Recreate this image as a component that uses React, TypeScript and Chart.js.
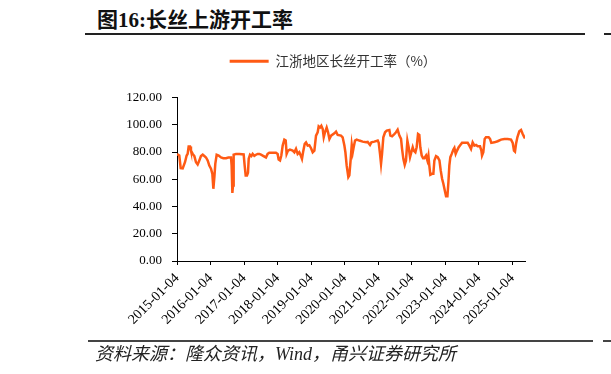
import React, { useEffect, useRef } from 'react';
import { Chart, registerables } from 'chart.js';

Chart.register(...registerables);

const titleText = '图16:长丝上游开工率';
const sourceText = '资料来源：隆众资讯，Wind，甬兴证券研究所';
const seriesName = '江浙地区长丝开工率（%）';

const dates: string[] = [
  '2015-01-04', '2015-01-29', '2015-02-13', '2015-03-07', '2015-04-01', '2015-04-19', '2015-04-30', '2015-05-11',
  '2015-05-26', '2015-06-05', '2015-06-24', '2015-07-12', '2015-07-30', '2015-08-17', '2015-09-04', '2015-09-22',
  '2015-10-11', '2015-10-29', '2015-11-16', '2015-12-04', '2015-12-22', '2016-01-09', '2016-01-24', '2016-02-04',
  '2016-02-15', '2016-02-25', '2016-03-11', '2016-04-02', '2016-04-27', '2016-05-23', '2016-06-21', '2016-07-16',
  '2016-08-14', '2016-08-21', '2016-08-29', '2016-09-05', '2016-09-12', '2016-10-08', '2016-11-13', '2016-12-30',
  '2017-01-10', '2017-01-21', '2017-02-04', '2017-02-15', '2017-02-23', '2017-03-09', '2017-03-24', '2017-04-07',
  '2017-04-25', '2017-05-13', '2017-06-01', '2017-06-19', '2017-07-07', '2017-07-25', '2017-08-30', '2017-09-17',
  '2017-10-05', '2017-11-11', '2017-12-17', '2018-01-04', '2018-01-15', '2018-01-30', '2018-02-13', '2018-02-28',
  '2018-03-18', '2018-04-02', '2018-04-12', '2018-04-27', '2018-05-18', '2018-06-17', '2018-07-05', '2018-07-23',
  '2018-08-10', '2018-08-28', '2018-09-15', '2018-09-26', '2018-10-11', '2018-10-26', '2018-11-09', '2018-11-27',
  '2018-12-15', '2019-01-03', '2019-01-21', '2019-02-08', '2019-02-26', '2019-03-16', '2019-03-27', '2019-04-11',
  '2019-04-25', '2019-05-10', '2019-05-21', '2019-06-04', '2019-06-22', '2019-07-07', '2019-07-22', '2019-08-09',
  '2019-09-14', '2019-10-02', '2019-10-20', '2019-11-25', '2019-12-13', '2020-01-01', '2020-01-12', '2020-01-26',
  '2020-02-13', '2020-02-24', '2020-03-10', '2020-03-21', '2020-04-01', '2020-04-11', '2020-04-26', '2020-05-14',
  '2020-06-12', '2020-07-18', '2020-08-24', '2020-09-11', '2020-10-06', '2020-10-21', '2020-11-22', '2020-12-29',
  '2021-01-09', '2021-01-23', '2021-02-03', '2021-02-14', '2021-02-28', '2021-03-19', '2021-04-06', '2021-05-05',
  '2021-05-16', '2021-06-03', '2021-06-28', '2021-07-16', '2021-08-03', '2021-08-22', '2021-09-09', '2021-09-20',
  '2021-10-04', '2021-10-19', '2021-11-02', '2021-11-17', '2021-12-01', '2021-12-16', '2021-12-30', '2022-01-14',
  '2022-01-25', '2022-02-12', '2022-02-26', '2022-03-13', '2022-03-27', '2022-04-07', '2022-04-22', '2022-05-07',
  '2022-05-21', '2022-06-08', '2022-06-23', '2022-07-04', '2022-07-14', '2022-07-25', '2022-08-12', '2022-08-27',
  '2022-09-07', '2022-09-25', '2022-10-13', '2022-11-01', '2022-11-15', '2022-11-30', '2022-12-14', '2022-12-29',
  '2023-01-12', '2023-01-27', '2023-02-07', '2023-02-17', '2023-02-28', '2023-03-15', '2023-04-02', '2023-04-13',
  '2023-04-27', '2023-05-12', '2023-05-30', '2023-06-17', '2023-07-05', '2023-09-05', '2023-09-23', '2023-10-11',
  '2023-10-29', '2023-11-17', '2023-12-05', '2023-12-23', '2024-01-17', '2024-02-01', '2024-02-08', '2024-02-22',
  '2024-03-08', '2024-03-22', '2024-04-20', '2024-05-05', '2024-05-19', '2024-06-21', '2024-07-27', '2024-09-02',
  '2024-10-08', '2024-11-13', '2024-12-20', '2025-01-07', '2025-01-21', '2025-02-01', '2025-02-12', '2025-02-27',
  '2025-03-20', '2025-04-08', '2025-04-26', '2025-05-14', '2025-05-21',
];

const values: number[] = [
  78.6, 77.4, 68.2, 68.0, 72.5, 77.4, 78.6, 84.0,
  84.0, 81.0, 78.6, 77.0, 72.5, 70.8, 73.8, 77.0,
  78.0, 77.0, 76.0, 73.8, 70.0, 67.7, 64.0, 53.0,
  61.6, 71.3, 78.0, 77.4, 76.0, 75.5, 75.5, 76.0,
  76.0, 70.0, 50.0, 55.5, 78.0, 78.6, 78.6, 78.2,
  70.0, 62.8, 62.8, 64.8, 75.0, 78.0, 77.0, 78.6,
  77.2, 78.0, 78.6, 78.6, 78.0, 77.4, 76.0, 78.6,
  79.4, 79.4, 79.4, 78.6, 74.5, 73.8, 77.4, 84.7,
  89.0, 88.4, 78.6, 81.0, 81.8, 81.0, 79.8, 82.3,
  78.6, 79.8, 77.0, 75.0, 81.0, 86.0, 87.0, 84.7,
  85.0, 82.8, 79.8, 81.0, 92.0, 94.5, 98.8, 98.0,
  99.3, 96.9, 90.8, 94.5, 97.9, 94.5, 89.6, 92.0,
  93.7, 94.9, 92.5, 92.0, 90.8, 84.7, 79.8, 70.0,
  61.6, 62.8, 75.0, 85.2, 79.8, 83.5, 88.4, 89.1,
  88.4, 87.6, 87.1, 87.4, 85.2, 87.1, 87.6, 88.4,
  86.7, 78.6, 71.3, 78.6, 90.8, 94.5, 95.7, 96.2,
  92.0, 91.5, 93.2, 94.5, 96.4, 92.0, 89.6, 82.3,
  75.0, 70.6, 73.8, 88.4, 83.5, 76.2, 79.8, 83.5,
  81.0, 79.8, 83.5, 93.2, 92.5, 83.5, 77.4, 75.5,
  75.5, 77.4, 73.8, 77.4, 70.0, 63.3, 64.0, 64.0,
  73.8, 77.0, 76.2, 73.8, 66.5, 60.4, 56.7, 51.9,
  47.5, 47.5, 58.0, 70.0, 76.2, 78.6, 81.8, 83.0,
  78.6, 81.0, 83.5, 85.2, 86.7, 86.7, 84.7, 82.3,
  87.1, 84.7, 85.2, 84.2, 84.2, 81.0, 77.4, 79.8,
  89.6, 90.8, 90.8, 89.6, 86.7, 87.1, 87.9, 89.1,
  89.6, 89.6, 89.1, 86.7, 81.0, 80.3, 85.9, 90.8,
  95.2, 96.2, 93.2, 90.8, 90.0,
];

const tickLabels: string[] = [
  '2015-01-04', '2016-01-04', '2017-01-04', '2018-01-04', '2019-01-04', '2020-01-04',
  '2021-01-04', '2022-01-04', '2023-01-04', '2024-01-04', '2025-01-04',
];
const xStart = '2015-01-04';
const xEnd = '2025-05-21';
const yMin = 0;
const yMax = 120;
const yStep = 20;

const DAY = 86400000;
const toDays = (s: string) => {
  const [y, m, d] = s.split('-').map(Number);
  return Date.UTC(y, m - 1, d) / DAY;
};

const LINE_COLOR = '#FF5A14';
const SERIF = '"Liberation Serif", "Times New Roman", serif';

const LEGEND_CENTER_X = 333;
const LEGEND_SHIFT_Y = 19.5;

const legendShift = {
  id: 'legendShift',
  afterLayout(chart: any) {
    const l = chart.legend;
    if (!l) return;
    const dx = LEGEND_CENTER_X - (l.left + l.right) / 2;
    l.top -= LEGEND_SHIFT_Y;
    l.bottom -= LEGEND_SHIFT_Y;
    l.left += dx;
    l.right += dx;
  },
};

export default function App() {
  const canvasRef = useRef<HTMLCanvasElement | null>(null);

  useEffect(() => {
    if (!canvasRef.current) return;
    const chart = new Chart(canvasRef.current, {
      type: 'line',
      data: {
        datasets: [
          {
            label: seriesName,
            data: dates.map((d, i) => ({ x: toDays(d), y: values[i] })),
            borderColor: LINE_COLOR,
            backgroundColor: LINE_COLOR,
            borderWidth: 2.5,
            pointRadius: 0,
            tension: 0,
            fill: false,
          },
        ],
      },
      options: {
        animation: false,
        responsive: false,
        maintainAspectRatio: false,
        layout: { padding: { top: 64, left: 0, right: 86, bottom: 0 } },
        plugins: {
          legend: {
            display: true,
            position: 'top',
            labels: {
              boxWidth: 39,
              boxHeight: 3,
              padding: 10,
              color: '#333',
              font: { family: '"Noto Sans CJK SC", sans-serif', size: 13.5 },
              generateLabels: (chart: any) =>
                Chart.defaults.plugins.legend.labels
                  .generateLabels(chart)
                  .map((item: any) => ({ ...item, lineWidth: 0, fillStyle: LINE_COLOR })),
            },
          },
          tooltip: { enabled: false },
        },
        scales: {
          x: {
            type: 'linear',
            min: toDays(xStart),
            max: toDays(xEnd),
            afterFit: (scale: any) => {
              scale.height = 113;
            },
            afterBuildTicks: (scale: any) => {
              scale.ticks = tickLabels.map((t) => ({ value: toDays(t) }));
            },
            grid: { display: true, drawOnChartArea: false, drawTicks: true, tickLength: 4, color: '#000' },
            border: { display: true, color: '#000', width: 1 },
            ticks: {
              autoSkip: false,
              maxRotation: 45,
              minRotation: 45,
              padding: 5,
              color: '#000',
              font: { family: SERIF, size: 14 },
              callback: (_v: any, i: number) => tickLabels[i],
            },
          },
          y: {
            min: yMin,
            max: yMax,
            afterFit: (scale: any) => {
              scale.width = 177;
            },
            grid: { display: true, drawOnChartArea: false, drawTicks: true, tickLength: 5, color: '#000' },
            border: { display: true, color: '#000', width: 1 },
            ticks: {
              stepSize: yStep,
              padding: 10,
              color: '#000',
              font: { family: SERIF, size: 13 },
              callback: (v: any) => Number(v).toFixed(2),
            },
          },
        },
      },
      plugins: [legendShift],
    });
    return () => chart.destroy();
  }, []);

  return (
    <div style={{ position: 'absolute', left: 0, top: 0, width: 611, height: 374, background: '#fff', overflow: 'hidden' }}>
      <div
        style={{
          position: 'absolute',
          left: 97,
          top: 8,
          fontFamily: '"Liberation Serif", "Noto Sans CJK SC", serif',
          fontWeight: 'bold',
          fontSize: 21,
          lineHeight: '24px',
          color: '#111',
          whiteSpace: 'nowrap',
        }}
      >
        {titleText}
      </div>
      <div style={{ position: 'absolute', left: 85, top: 33, width: 500, height: 2, background: '#222' }} />
      <div style={{ position: 'absolute', left: 604, top: 33, width: 7, height: 2, background: '#222' }} />
      <canvas ref={canvasRef} width={611} height={374} style={{ position: 'absolute', left: 0, top: 0, width: 611, height: 374 }} />
      <div style={{ position: 'absolute', left: 88, top: 340, width: 505, height: 2, background: '#444' }} />
      <div style={{ position: 'absolute', left: 603, top: 340, width: 8, height: 2, background: '#444' }} />
      <div
        style={{
          position: 'absolute',
          left: 95,
          top: 344,
          fontFamily: '"Liberation Serif", "Noto Sans CJK SC", serif',
          fontStyle: 'italic',
          fontSize: 18,
          lineHeight: '20px',
          color: '#222',
          whiteSpace: 'nowrap',
        }}
      >
        {sourceText}
      </div>
    </div>
  );
}
